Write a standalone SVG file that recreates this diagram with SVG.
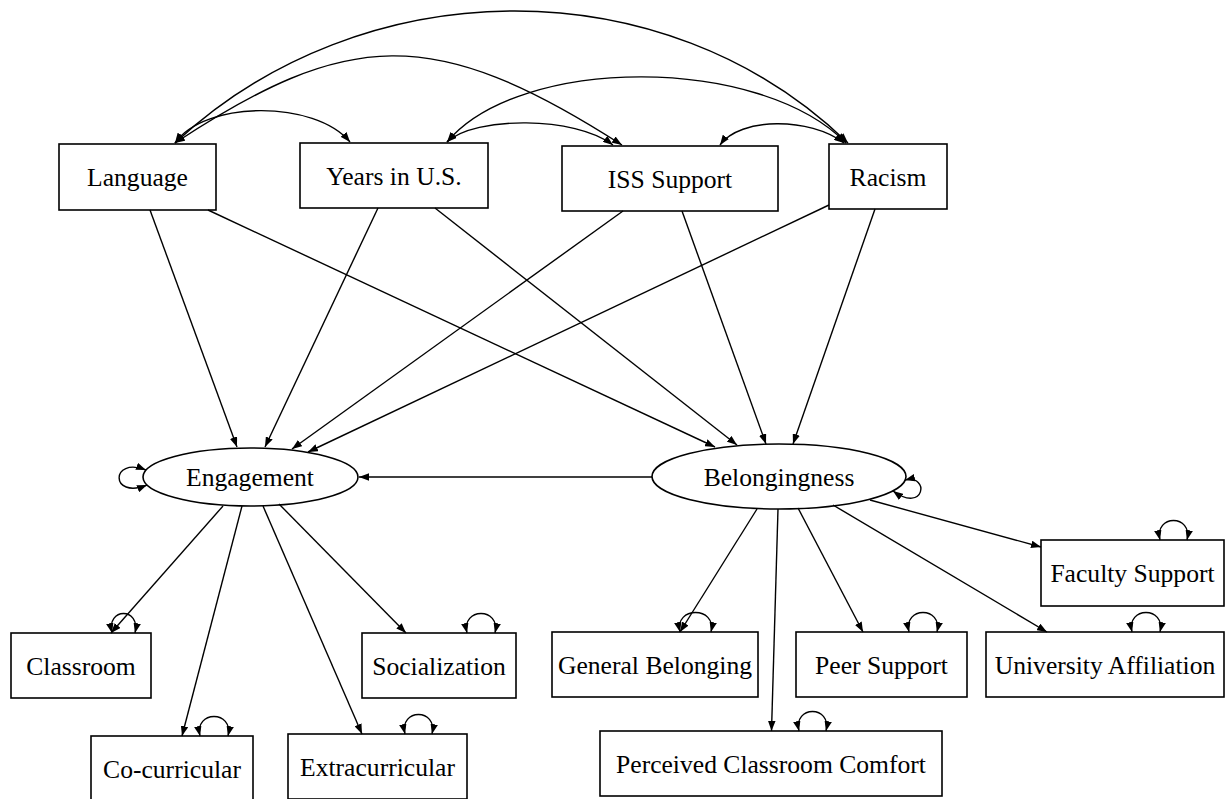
<svg xmlns="http://www.w3.org/2000/svg" width="1225" height="799" viewBox="0 0 1225 799">
<style>
.box{fill:#fff;stroke:#000;stroke-width:1.6}
.lbl{font-family:"Liberation Serif","Times New Roman",serif;font-size:25.6px;text-anchor:middle;fill:#000}
.e{fill:none;stroke:#000;stroke-width:1.4;marker-end:url(#ah)}
.b{fill:none;stroke:#000;stroke-width:1.4;marker-start:url(#ah);marker-end:url(#ah)}
</style>
<defs>
<marker id="ah" viewBox="0 0 10 7.5" refX="10" refY="3.75" markerWidth="10" markerHeight="7.5" markerUnits="userSpaceOnUse" orient="auto-start-reverse">
<path d="M0,0 L10,3.75 L0,7.5 z" fill="#000"/>
</marker>
</defs>
<rect width="1225" height="799" fill="#fff"/>
<g id="nodes">
<g id="language"><rect class="box" x="59" y="144" width="157" height="66"/><text class="lbl" x="137.5" y="186">Language</text></g>
<g id="years"><rect class="box" x="300" y="143" width="188" height="65"/><text class="lbl" x="394" y="184.5">Years in U.S.</text></g>
<g id="iss"><rect class="box" x="562" y="146" width="216" height="65"/><text class="lbl" x="670" y="187.5">ISS Support</text></g>
<g id="racism"><rect class="box" x="829" y="144" width="118" height="65"/><text class="lbl" x="888" y="185.5">Racism</text></g>
<g id="engagement"><ellipse class="box" cx="250.5" cy="477" rx="107.5" ry="29"/><text class="lbl" x="250" y="486">Engagement</text></g>
<g id="belongingness"><ellipse class="box" cx="779" cy="476.5" rx="127" ry="32.5"/><text class="lbl" x="779" y="485.5">Belongingness</text></g>
<g id="classroom"><rect class="box" x="11" y="633" width="140" height="65"/><text class="lbl" x="81" y="674.5">Classroom</text></g>
<g id="cocurricular"><rect class="box" x="91" y="736" width="162" height="66"/><text class="lbl" x="172" y="777.5">Co-curricular</text></g>
<g id="extracurricular"><rect class="box" x="288" y="734" width="179" height="65"/><text class="lbl" x="377.5" y="776">Extracurricular</text></g>
<g id="socialization"><rect class="box" x="362" y="633" width="154" height="65"/><text class="lbl" x="439" y="674.5">Socialization</text></g>
<g id="generalbelonging"><rect class="box" x="552" y="632" width="206" height="65"/><text class="lbl" x="655" y="673.5">General Belonging</text></g>
<g id="peersupport"><rect class="box" x="796" y="632" width="171" height="65"/><text class="lbl" x="881.5" y="673.5">Peer Support</text></g>
<g id="universityaffiliation"><rect class="box" x="986" y="632" width="238" height="65"/><text class="lbl" x="1105" y="673.5">University Affiliation</text></g>
<g id="facultysupport"><rect class="box" x="1041" y="540" width="183" height="66"/><text class="lbl" x="1132.5" y="582">Faculty Support</text></g>
<g id="pcc"><rect class="box" x="600" y="731" width="342" height="65"/><text class="lbl" x="771" y="772.5">Perceived Classroom Comfort</text></g>
</g>
<g id="connectors">
<!-- covariances -->
<path class="b" d="M175,143 C205,100 315,100 350,142"/>
<path class="b" d="M175,143 C347,30 432,23 622,145"/>
<path class="b" d="M175,143 C360,-30 663,-36 848,143"/>
<path class="b" d="M447,142 C475,116 575,116 613,145"/>
<path class="b" d="M447,142 C520,55 760,55 846,143"/>
<path class="b" d="M720,145 C740,117 810,117 844,143"/>
<!-- regressions -->
<path class="e" d="M150,210 L237,447"/>
<path class="e" d="M208,210 L715,447"/>
<path class="e" d="M378,208 L265,447"/>
<path class="e" d="M435,208 L737,445"/>
<path class="e" d="M623,211 L292,449"/>
<path class="e" d="M682,211 L766,444"/>
<path class="e" d="M829,205 L308,452"/>
<path class="e" d="M875,209 L793,444"/>
<path class="e" d="M652,477 L359,477"/>
<!-- loadings -->
<path class="e" d="M223,506 L111,633"/>
<path class="e" d="M242,506 L182,736"/>
<path class="e" d="M263,506 L362,734"/>
<path class="e" d="M279,504 L406,633"/>
<path class="e" d="M757,509 L680,632"/>
<path class="e" d="M778,509 L771.5,731"/>
<path class="e" d="M798,508 L863,632"/>
<path class="e" d="M833,505 L1047,632"/>
<path class="e" d="M870,500 L1041,547"/>
<!-- variances -->
<path class="b" d="M146,470 C110,456 110,500 147,485"/>
<path class="b" d="M905,480 C930,474 925,514 893,491"/>
<path class="b" d="M112,633 C106,607 141,607 135,633"/>
<path class="b" d="M200,736 C194,710 234,710 228,736"/>
<path class="b" d="M405,734 C399,708 438,708 432,734"/>
<path class="b" d="M467,633 C461,607 501,607 495,633"/>
<path class="b" d="M680,632 C674,606 717,606 711,632"/>
<path class="b" d="M909,632 C903,606 943,606 937,632"/>
<path class="b" d="M1132,632 C1126,606 1166,606 1160,632"/>
<path class="b" d="M1160,540 C1154,514 1193,514 1187,540"/>
<path class="b" d="M799,731 C793,705 832,705 826,731"/>
</g>
</svg>
